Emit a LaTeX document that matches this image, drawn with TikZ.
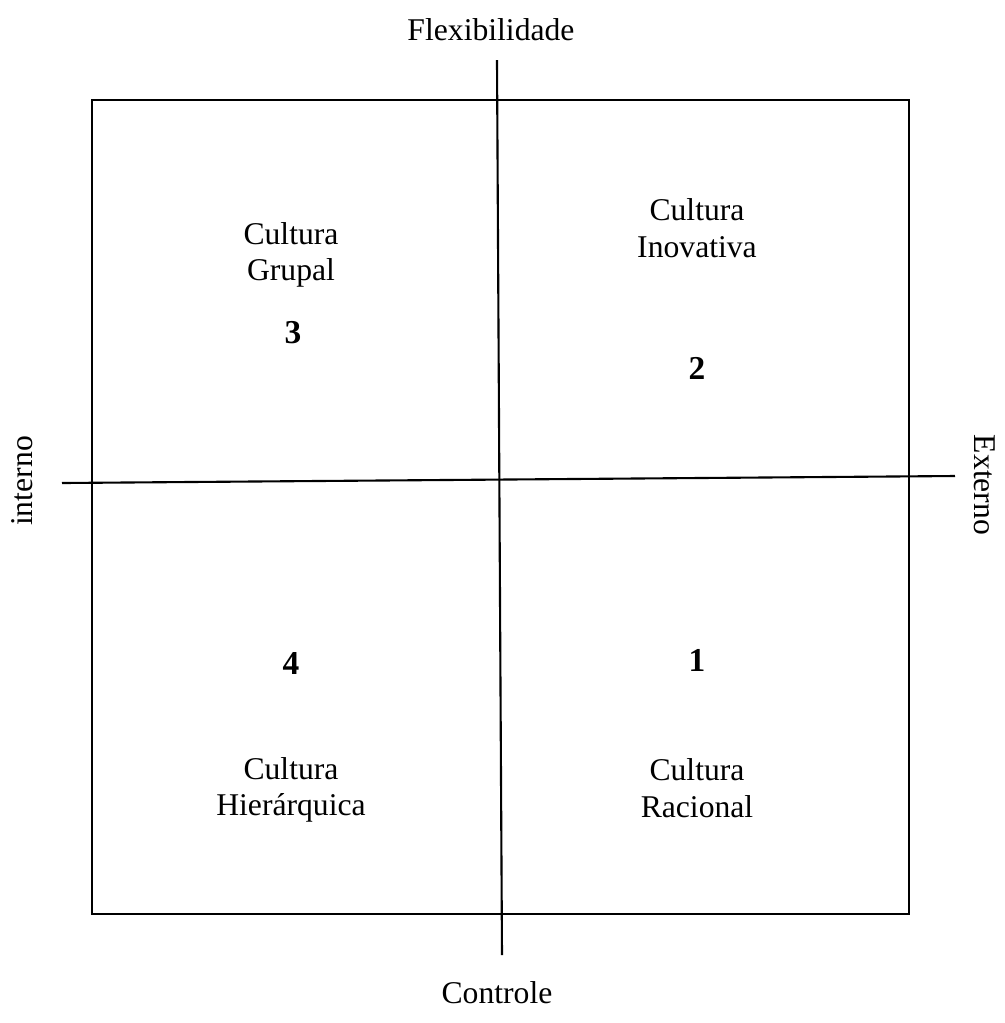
\documentclass[tikz,border=0pt]{standalone}
\usepackage{fontspec}
\setmainfont{Liberation Serif}
\begin{document}
\begin{tikzpicture}[x=0.01cm,y=-0.01cm,
  lbl/.style={font=\fontsize{9pt}{10.4pt}\selectfont, align=center, inner sep=0pt},
  num/.style={font=\fontsize{9.5pt}{10.4pt}\selectfont\bfseries, inner sep=0pt},
  ln/.style={line width=0.6pt}]
\useasboundingbox (0,0) rectangle (1005,1023);
\coordinate (tl) at (92,100);
\coordinate (br) at (909,914);
\draw[ln] (tl) rectangle (br);
\coordinate (vt) at (497,60);
\coordinate (vb) at (502,955);
\coordinate (hl) at (62,483);
\coordinate (hr) at (955,476);
\draw[ln] (vt) -- (vb);
\draw[ln] (hl) -- (hr);
\node[lbl] (flex) at (491,30) {Flexibilidade};
\node[lbl] (ctrl) at (497,993) {Controle};
\node[lbl, rotate=90] (int) at (22,481) {interno};
\node[lbl, rotate=-90] (ext) at (985,485) {Externo};
\node[lbl] (grupal) at (291,255) {Cultura\\Grupal};
\node[num] (n3) at (293,333) {3};
\node[lbl] (inov) at (697,228) {Cultura\\Inovativa};
\node[num] (n2) at (697,368) {2};
\node[num] (n4) at (291,663) {4};
\node[lbl] (hier) at (291,790) {Cultura\\Hierárquica};
\node[num] (n1) at (697,660) {1};
\node[lbl] (rac) at (697,788) {Cultura\\Racional};
\end{tikzpicture}
\end{document}
